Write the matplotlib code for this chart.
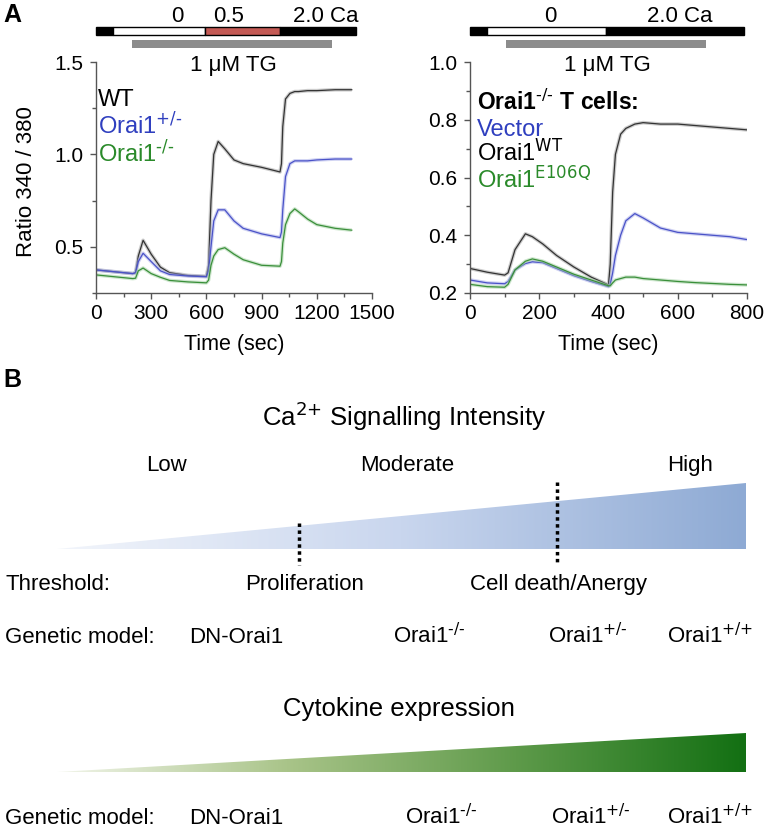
import numpy as np
import matplotlib
matplotlib.use("Agg")
import matplotlib.pyplot as plt
from matplotlib.patches import Polygon, Rectangle
from matplotlib.colors import LinearSegmentedColormap
from matplotlib.ticker import MultipleLocator

plt.rcParams['font.family'] = ['Liberation Sans', 'DejaVu Sans']
plt.rcParams['mathtext.default'] = 'regular'

# ---------------- data: left panel (TG, 0 -> 0.5 -> 2.0 Ca) ----------------
t_left = [0, 100, 200, 215, 230, 256, 300, 350, 400, 500, 600, 612, 625, 640, 664,
          700, 750, 800, 900, 1000, 1008, 1015, 1030, 1054, 1080, 1100, 1150, 1200, 1300, 1390]
wt_left = [0.375, 0.365, 0.355, 0.36, 0.45, 0.535, 0.46, 0.39, 0.36, 0.345, 0.34, 0.40, 0.75, 1.0, 1.07,
           1.03, 0.97, 0.95, 0.93, 0.905, 0.95, 1.15, 1.30, 1.33, 1.34, 1.34, 1.345, 1.345, 1.35, 1.35]
het_left = [0.375, 0.365, 0.355, 0.36, 0.42, 0.465, 0.42, 0.37, 0.35, 0.342, 0.338, 0.37, 0.50, 0.64, 0.70,
            0.70, 0.64, 0.60, 0.57, 0.55, 0.58, 0.70, 0.88, 0.95, 0.965, 0.965, 0.965, 0.97, 0.975, 0.975]
ko_left = [0.348, 0.338, 0.328, 0.33, 0.37, 0.385, 0.355, 0.335, 0.318, 0.31, 0.305, 0.32, 0.40, 0.45, 0.485,
           0.495, 0.46, 0.43, 0.40, 0.395, 0.42, 0.52, 0.62, 0.68, 0.705, 0.69, 0.65, 0.62, 0.60, 0.59]

# ---------------- data: right panel (Orai1-/- T cells rescue) ----------------
t_right = [0, 50, 100, 110, 130, 160, 180, 210, 250, 300, 350, 400, 405, 412, 420, 435, 450,
           476, 500, 550, 600, 650, 700, 750, 800]
wt_right = [0.285, 0.272, 0.262, 0.27, 0.35, 0.405, 0.395, 0.37, 0.33, 0.29, 0.255, 0.228, 0.30, 0.55,
            0.68, 0.75, 0.77, 0.785, 0.79, 0.785, 0.785, 0.78, 0.775, 0.77, 0.765]
vec_right = [0.245, 0.235, 0.232, 0.24, 0.28, 0.302, 0.308, 0.305, 0.285, 0.26, 0.24, 0.222, 0.23, 0.27,
             0.33, 0.40, 0.45, 0.475, 0.46, 0.425, 0.41, 0.405, 0.40, 0.395, 0.385]
mut_right = [0.23, 0.222, 0.22, 0.23, 0.28, 0.31, 0.318, 0.31, 0.29, 0.265, 0.245, 0.225, 0.225, 0.235,
             0.245, 0.25, 0.255, 0.255, 0.25, 0.245, 0.24, 0.236, 0.233, 0.23, 0.228]

# solution protocol bars (time in sec)
left_ca_segments = [(0, 92, 'black'), (92, 592, 'white'), (592, 1000, '#c45a55'), (1000, 1413, 'black')]
left_tg = (195, 1283)
right_ca_segments = [(0, 49, 'black'), (49, 393, 'white'), (393, 791, 'black')]
right_tg = (104, 681)

# part B labels
genetic_models = ['DN-Orai1', r'Orai1$^{\text{-/-}}$', r'Orai1$^{\text{+/-}}$', r'Orai1$^{\text{+/+}}$']
intensity_levels = ['Low', 'Moderate', 'High']
thresholds = ['Proliferation', 'Cell death/Anergy']

W, H = 766, 832
fig = plt.figure(figsize=(W / 100, H / 100), dpi=100)


def fx(x):
    return x / W


def fy(y):
    return 1 - y / H


BLUE = '#2f3fbf'
GREEN = '#2a8a2a'
TICK_FS = 15


def style_axes(ax):
    for s in ['top', 'right']:
        ax.spines[s].set_visible(False)
    for s in ['left', 'bottom']:
        ax.spines[s].set_color('#555555')
        ax.spines[s].set_linewidth(1.0)
    ax.tick_params(which='major', direction='out', length=4, width=1, color='#555555',
                   labelsize=TICK_FS)
    ax.tick_params(axis='y', which='major', pad=5)
    ax.tick_params(axis='x', which='major', pad=4)
    ax.tick_params(which='minor', direction='out', length=3, width=1, color='#555555')


def trace(ax, t, v, col, halo):
    ax.plot(t, v, color=halo, lw=2.6, alpha=0.5, solid_capstyle='butt')
    ax.plot(t, v, color=col, lw=0.9)


# ---- left axes ----
axL = fig.add_axes([fx(96), fy(293), (372 - 96) / W, (293 - 62) / H])
style_axes(axL)
axL.set_xlim(0, 1500)
axL.set_ylim(0.25, 1.5)
axL.xaxis.set_major_locator(MultipleLocator(300))
axL.xaxis.set_minor_locator(MultipleLocator(150))
axL.set_yticks([0.5, 1.0, 1.5])
axL.set_yticklabels(['0.5', '1.0', '1.5'])
axL.yaxis.set_minor_locator(MultipleLocator(0.25))
trace(axL, t_left, wt_left, '#333333', '#9a9a9a')
trace(axL, t_left, het_left, '#4a52c8', '#a3a8e6')
trace(axL, t_left, ko_left, '#3a8f3a', '#9fcf9f')
axL.set_xlabel('Time (sec)', fontsize=15.5, labelpad=8)
fig.text(fx(26), fy(182), 'Ratio 340 / 380', fontsize=16, rotation=90, ha='center', va='center')

# ---- right axes ----
axR = fig.add_axes([fx(470), fy(293), (747 - 470) / W, (293 - 62) / H])
style_axes(axR)
axR.set_xlim(0, 800)
axR.set_ylim(0.2, 1.0)
axR.xaxis.set_major_locator(MultipleLocator(200))
axR.xaxis.set_minor_locator(MultipleLocator(100))
axR.set_yticks([0.2, 0.4, 0.6, 0.8, 1.0])
axR.set_yticklabels(['0.2', '0.4', '0.6', '0.8', '1.0'])
axR.yaxis.set_minor_locator(MultipleLocator(0.1))
trace(axR, t_right, wt_right, '#333333', '#9a9a9a')
trace(axR, t_right, vec_right, '#4a52c8', '#a3a8e6')
trace(axR, t_right, mut_right, '#3a8f3a', '#9fcf9f')
axR.set_xlabel('Time (sec)', fontsize=15.5, labelpad=8)


# ---- protocol bars (data x coords, figure y coords) ----
def protocol(ax, segs, tg, y_ca, y_tg):
    tr = matplotlib.transforms.blended_transform_factory(ax.transData, fig.transFigure)
    for a, b, c in segs:
        ax.add_patch(Rectangle((a, fy(y_ca + 8)), b - a, 8 / H, transform=tr, facecolor=c,
                               edgecolor='black', lw=1.0, clip_on=False))
    ax.add_patch(Rectangle((tg[0], fy(y_tg + 8)), tg[1] - tg[0], 8 / H, transform=tr,
                           facecolor='#8c8c8c', edgecolor='none', clip_on=False))


protocol(axL, left_ca_segments, left_tg, 27, 40)
protocol(axR, right_ca_segments, right_tg, 27, 40)

PFS = 16
fig.text(fx(177), fy(22), '0', fontsize=PFS, ha='center', va='baseline')
fig.text(fx(229), fy(22), '0.5', fontsize=PFS, ha='center', va='baseline')
fig.text(fx(326), fy(22), '2.0 Ca', fontsize=PFS, ha='center', va='baseline')
fig.text(fx(233), fy(71), '1 μM TG', fontsize=PFS, ha='center', va='baseline')
fig.text(fx(550), fy(22), '0', fontsize=PFS, ha='center', va='baseline')
fig.text(fx(680), fy(22), '2.0 Ca', fontsize=PFS, ha='center', va='baseline')
fig.text(fx(607), fy(71), '1 μM TG', fontsize=PFS, ha='center', va='baseline')

# legends as text (baseline aligned)
LFS = 17
fig.text(fx(98), fy(106), 'WT', fontsize=LFS, color='black', va='baseline')
fig.text(fx(98), fy(134), r'Orai1$^{\text{+/-}}$', fontsize=LFS, color=BLUE, va='baseline')
fig.text(fx(98), fy(162), r'Orai1$^{\text{-/-}}$', fontsize=LFS, color=GREEN, va='baseline')
fig.text(fx(477), fy(110), r'Orai1$^{\text{-/-}}$ T cells:', fontsize=16.5, fontweight='bold',
         color='black', va='baseline')
fig.text(fx(477), fy(136), 'Vector', fontsize=LFS, color=BLUE, va='baseline')
fig.text(fx(477), fy(161), r'Orai1$^{\text{WT}}$', fontsize=LFS, color='black', va='baseline')
fig.text(fx(477), fy(188), r'Orai1$^{\text{E106Q}}$', fontsize=LFS, color=GREEN, va='baseline')

fig.text(fx(3), fy(15), 'A', fontsize=18, fontweight='bold', va='center')
fig.text(fx(3), fy(380), 'B', fontsize=18, fontweight='bold', va='center')

# ---------------- Part B ----------------
axB = fig.add_axes([0, 0, 1, 1])
axB.set_zorder(-1)

blue_cmap = LinearSegmentedColormap.from_list('b', ['#f2f5fb', '#c9d6ee', '#8eaad4'])
green_cmap = LinearSegmentedColormap.from_list('g', ['#f2f5ea', '#a9c489', '#5e9a4a', '#137013'])

grad = np.linspace(0, 1, 256).reshape(1, -1)


def wedge(x0, x1, ytip, ytop, cmap):
    im = axB.imshow(grad, cmap=cmap, extent=[x0, x1, ytip, ytop], aspect='auto',
                    interpolation='bilinear')
    poly = Polygon([[x0, ytip], [x1, ytop], [x1, ytip]], closed=True, transform=axB.transData,
                   facecolor='none', edgecolor='none')
    axB.add_patch(poly)
    im.set_clip_path(poly)


wedge(57, 746, 549, 483, blue_cmap)
wedge(57, 746, 772, 733, green_cmap)
axB.set_xlim(0, W)
axB.set_ylim(H, 0)
axB.axis('off')

axB.plot([299, 299], [523, 565], color='black', lw=2.5, linestyle=(0, (1, 1)))
axB.plot([557, 557], [482, 564], color='black', lw=2.5, linestyle=(0, (1, 1)))

BFS = 16
axB.text(404, 426, r'Ca$^{\text{2+}}$ Signalling Intensity', fontsize=18.5, ha='center', va='baseline')
for lab, x in zip(intensity_levels, [167, 407, 690]):
    axB.text(x, 471, lab, fontsize=BFS, ha='center', va='baseline')
axB.text(5, 590, 'Threshold:', fontsize=BFS, ha='left', va='baseline')
for lab, x in zip(thresholds, [305, 558]):
    axB.text(x, 590, lab, fontsize=BFS, ha='center', va='baseline')

axB.text(5, 643, 'Genetic model:', fontsize=BFS, ha='left', va='baseline')
for lab, x in zip(genetic_models, [189, 393, 548, 667]):
    axB.text(x, 643, lab, fontsize=BFS, ha='left', va='baseline')

axB.text(399, 716, 'Cytokine expression', fontsize=18.5, ha='center', va='baseline')
axB.text(5, 824, 'Genetic model:', fontsize=BFS, ha='left', va='baseline')
for lab, x in zip(genetic_models, [189, 405, 551, 667]):
    axB.text(x, 824, lab, fontsize=BFS, ha='left', va='baseline')

fig.savefig('out.png', dpi=100)
